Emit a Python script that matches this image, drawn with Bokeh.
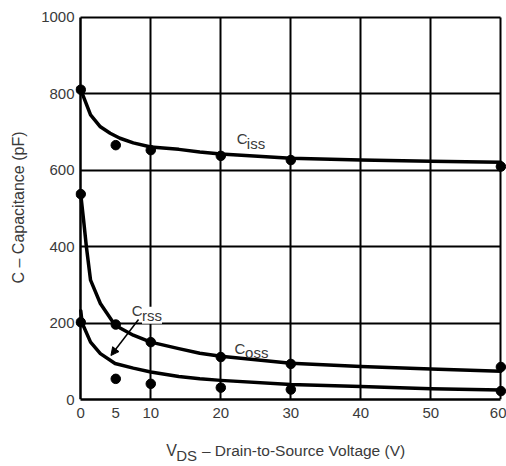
from bokeh.plotting import figure
from bokeh.layouts import column
from bokeh.models import Range1d, FixedTicker, Label, Arrow, NormalHead, Grid
from bokeh.embed import file_html
from bokeh.resources import INLINE

# ---- data ----
x_ticks = [0, 5, 10, 20, 30, 40, 50, 60]
x_grid = [10, 20, 30, 40, 50, 60]
y_ticks = [0, 200, 400, 600, 800, 1000]
y_grid = [200, 400, 600, 800, 1000]

ciss_x = [0, 1.4, 2.8, 4.2, 5.6, 7.5, 10, 14, 17, 20, 30, 40, 50, 60]
ciss_y = [810, 744, 713, 696, 683, 671, 660, 654, 647, 642, 631, 626, 623, 620]
coss_x = [0, 0.4, 0.8, 1.4, 2.8, 4.9, 7.5, 10, 14, 17, 20, 30, 40, 50, 60]
coss_y = [536, 470, 400, 312, 251, 194, 168, 150, 133, 121, 113, 95, 86, 80, 74]
crss_x = [0, 0.2, 1.4, 2.8, 4.9, 7.5, 10, 14, 17, 20, 30, 40, 50, 60]
crss_y = [232, 200, 150, 120, 94, 82, 72, 60, 54, 50, 39, 34, 28, 25]

dot_x = [0, 5, 10, 20, 30, 60]
ciss_dots = [810, 665, 652, 637, 626, 609]
coss_dots = [537, 196, 150, 111, 93, 85]
crss_dots = [202, 54, 41, 31, 26, 22]

FONT = "Liberation Sans"
TXT = "#3a3a3a"

p = figure(width=506, height=425, output_backend="svg", toolbar_location=None,
           x_range=Range1d(-0.75, 60.8), y_range=Range1d(0, 1004),
           min_border_left=75, min_border_right=0, min_border_top=15, min_border_bottom=26)
p.background_fill_color = "white"
p.border_fill_color = "white"
p.outline_line_color = None

# axes
for ax in (p.xaxis[0], p.yaxis[0]):
    ax.major_tick_line_color = None
    ax.minor_tick_line_color = None
    ax.major_tick_out = 0
    ax.major_tick_in = 0
    ax.major_label_text_font = FONT
    ax.major_label_text_font_size = "15px"
    ax.major_label_text_color = TXT
p.xaxis.axis_line_width = 2.5
p.xaxis.axis_line_color = "black"
p.xaxis.bounds = (0, 60)
p.yaxis.axis_line_color = None
p.xaxis.ticker = FixedTicker(ticks=x_ticks)
p.yaxis.ticker = FixedTicker(ticks=y_ticks)
p.xaxis.major_label_standoff = 8
p.yaxis.major_label_standoff = 1
p.yaxis.axis_label = "C \u2013 Capacitance (pF)"
p.yaxis.axis_label_text_font = FONT
p.yaxis.axis_label_text_font_size = "16px"
p.yaxis.axis_label_text_font_style = "normal"
p.yaxis.axis_label_text_color = TXT
p.yaxis.axis_label_standoff = 11

# grid (with the chart's border lines at 0, 60 and 1000)
p.xgrid.ticker = FixedTicker(ticks=x_grid)
p.ygrid.ticker = FixedTicker(ticks=y_grid)
p.xgrid.cross_bounds = (0, 1000)
p.ygrid.cross_bounds = (0, 60)
for g in (p.xgrid[0], p.ygrid[0]):
    g.grid_line_color = "black"
    g.grid_line_width = 2
    g.grid_line_alpha = 1
p.add_layout(Grid(dimension=0, ticker=FixedTicker(ticks=[0]), cross_bounds=(0, 1000),
                  grid_line_color="black", grid_line_width=2.5))

# curves
for xs, ys in ((ciss_x, ciss_y), (coss_x, coss_y), (crss_x, crss_y)):
    p.line(xs, ys, line_color="black", line_width=3.5, line_join="round", line_cap="round")

# dots
for ys in (ciss_dots, coss_dots, crss_dots):
    p.scatter(dot_x, ys, size=9.5, marker="circle", fill_color="black", line_color="black")


def lab(fig, x, y, text, size, bg=None):
    l = Label(x=x, y=y, text=text, text_font=FONT, text_font_size=size,
              text_color=TXT, text_baseline="alphabetic", text_align="left")
    if bg:
        l.background_fill_color = bg
    fig.add_layout(l)


# series labels
lab(p, 22.29, 682, "C", "15px")
lab(p, 23.72, 669, "iss", "15px")
lab(p, 21.95, 133, "C", "15px")
lab(p, 23.47, 124, "oss", "15px")
lab(p, 7.3, 233, "C", "15px", bg="white")
lab(p, 8.75, 220, "rss", "15px", bg="white")

p.add_layout(Arrow(x_start=8.25, y_start=209, x_end=4.31, y_end=115, line_width=1.5,
                   line_color="black",
                   end=NormalHead(size=8, fill_color="black", line_color="black")))

# x-axis title (with subscript) in a text-only strip below the chart
q = figure(width=506, height=38, output_backend="svg", toolbar_location=None,
           x_range=p.x_range, y_range=Range1d(0, 38),
           x_axis_location=None, y_axis_location=None,
           min_border_left=75, min_border_right=0, min_border_top=0, min_border_bottom=0)
q.outline_line_color = None
q.grid.visible = False
q.background_fill_color = "white"
q.border_fill_color = "white"
lab(q, 12.2, 13, "V", "16px")
lab(q, 13.63, 8, "DS", "15px")
lab(q, 17.3, 13, "\u2013 Drain-to-Source Voltage (V)", "15.5px")

layout = column(p, q, spacing=0)
open("out.html", "w").write(file_html(layout, INLINE))
